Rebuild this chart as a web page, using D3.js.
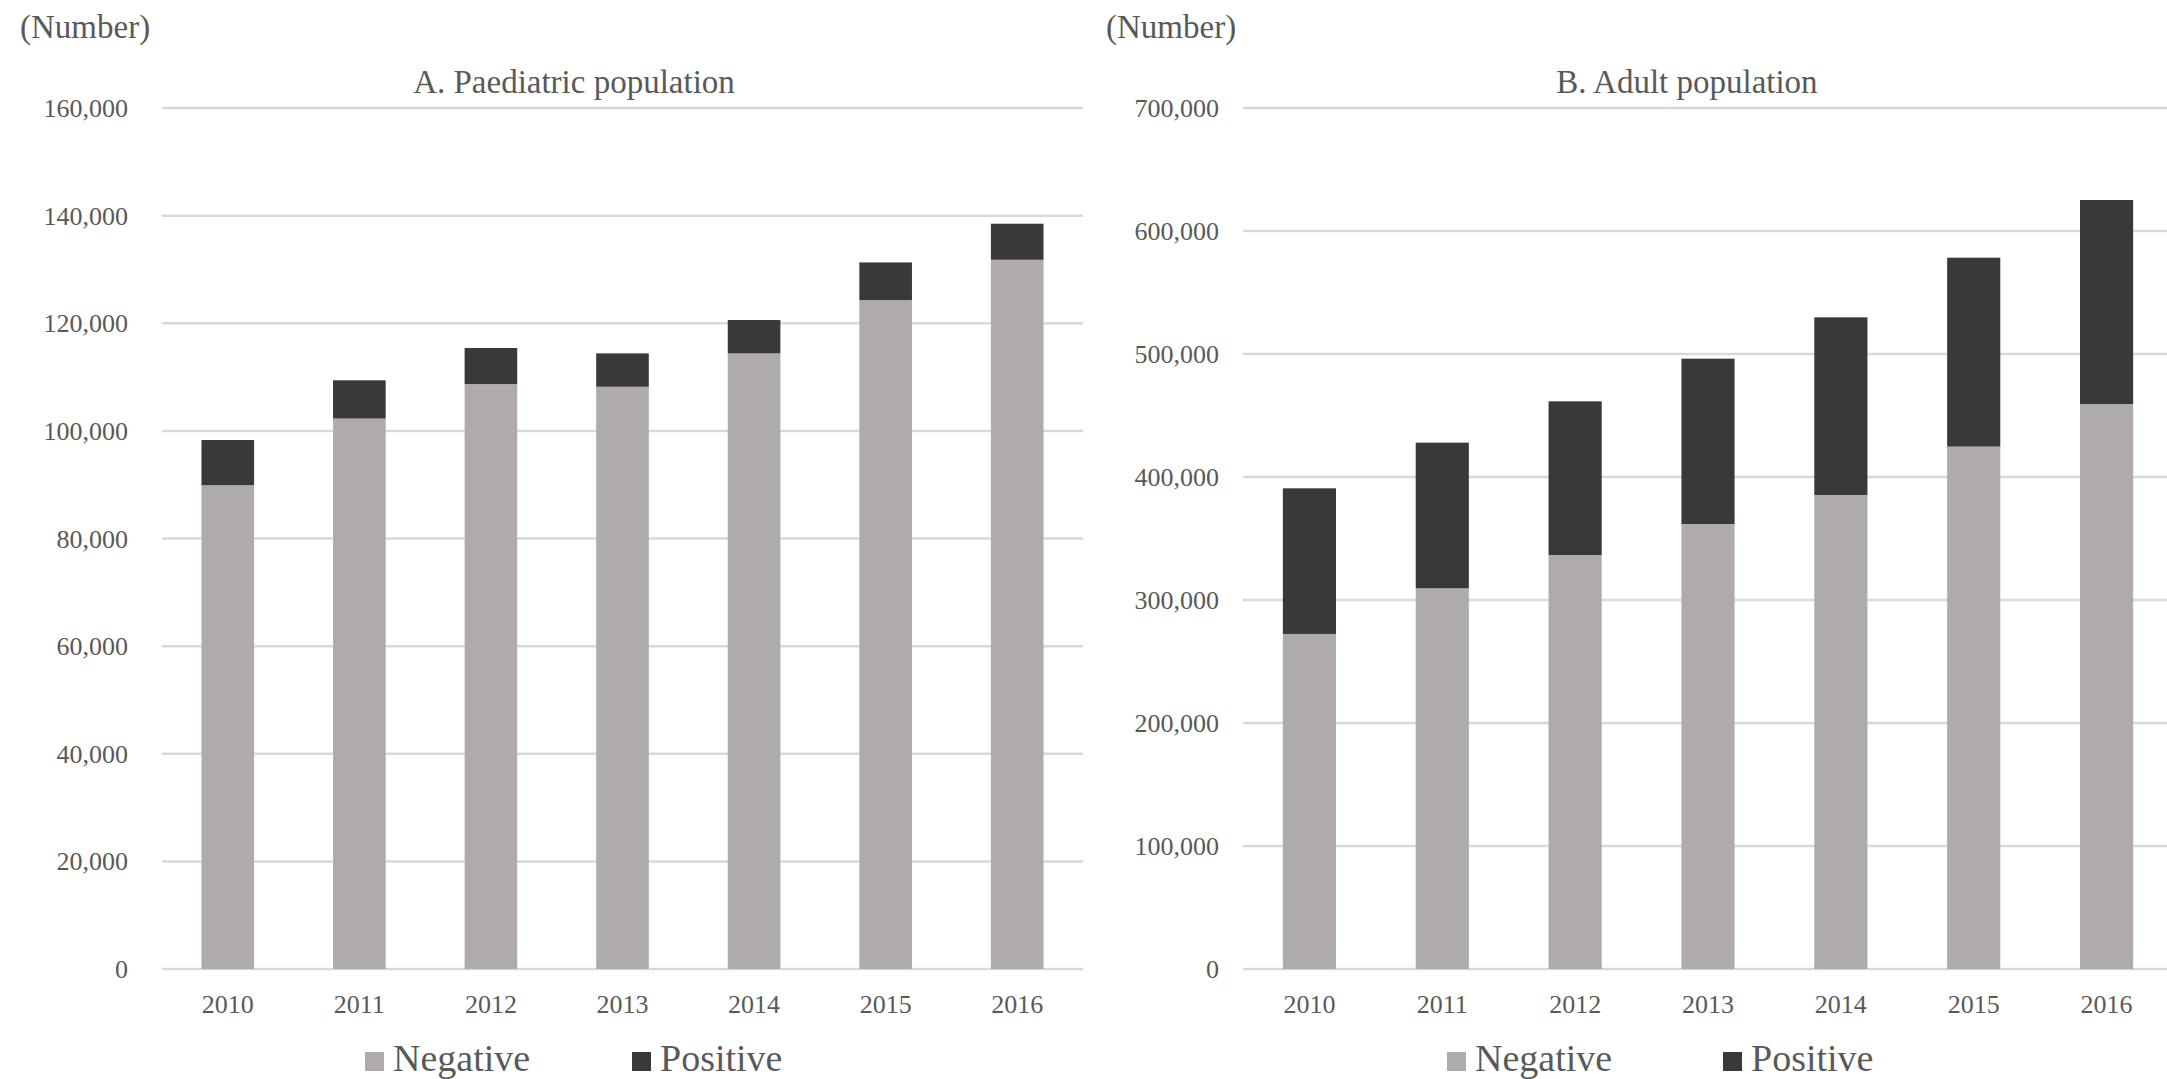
<html>
<head>
<script src="https://cdn.jsdelivr.net/npm/d3@7"></script>
<style>
  body { margin: 0; background: #fff; }
  text { font-family: "Liberation Serif", "Times New Roman", serif; fill: #595959; }
</style>
</head>
<body>
<script>
// years on the x axis
var years = ["2010", "2011", "2012", "2013", "2014", "2015", "2016"]
var seriesNames = ["Negative", "Positive"]

// A. paediatric population
var paedNegative = [89900, 102300, 108700, 108200, 114400, 124300, 131800]
var paedPositive = [8400, 7100, 6700, 6200, 6200, 7000, 6700]
var paedTicks = [0, 20000, 40000, 60000, 80000, 100000, 120000, 140000, 160000]

// B. adult population
var adultNegative = [272400, 309500, 336600, 361800, 385400, 424700, 459300]
var adultPositive = [118400, 118400, 124900, 134400, 144400, 153600, 165900]
var adultTicks = [0, 100000, 200000, 300000, 400000, 500000, 600000, 700000]

var colors = {Negative: "#aeabaa", Positive: "#3a3937"}

var width = 2167, height = 1079
var svg = d3.select("body").append("svg")
    .attr("width", width)
    .attr("height", height)

var fmt = d3.format(",")

function panel(opt) {
  var rows = years.map(function(y, i) {
    return {year: y, Negative: opt.neg[i], Positive: opt.pos[i]}
  })
  var stacked = d3.stack().keys(seriesNames)(rows)

  var x = d3.scaleBand().domain(years).range([opt.x0, opt.x1]).paddingInner(0.6).paddingOuter(0.3)
  var y = d3.scaleLinear().domain([0, opt.max]).range([969, 108])

  var g = svg.append("g")

  // gridlines
  g.selectAll("line.grid")
    .data(opt.ticks)
    .enter().append("line")
    .attr("x1", opt.x0).attr("x2", opt.x1)
    .attr("y1", function(d) { return y(d) }).attr("y2", function(d) { return y(d) })
    .style("stroke", "#d9d9d9")
    .style("stroke-width", 2.5)

  // y labels
  g.selectAll("text.ytick")
    .data(opt.ticks)
    .enter().append("text")
    .attr("x", opt.labelX)
    .attr("y", function(d) { return y(d) + 9 })
    .attr("text-anchor", "end")
    .style("font-size", "26px")
    .text(function(d) { return fmt(d) })

  // bars
  g.selectAll("g.layer")
    .data(stacked)
    .enter().append("g")
    .style("fill", function(d) { return colors[d.key] })
    .selectAll("rect")
    .data(function(d) { return d })
    .enter().append("rect")
    .attr("x", function(d) { return x(d.data.year) })
    .attr("width", x.bandwidth())
    .attr("y", function(d) { return y(d[1]) })
    .attr("height", function(d) { return y(d[0]) - y(d[1]) })

  // x labels
  g.selectAll("text.xtick")
    .data(years)
    .enter().append("text")
    .attr("x", function(d) { return x(d) + x.bandwidth() / 2 })
    .attr("y", 1013)
    .attr("text-anchor", "middle")
    .style("font-size", "26px")
    .text(function(d) { return d })

  // title + unit
  g.append("text")
    .attr("x", opt.titleX).attr("y", 93)
    .attr("text-anchor", "middle")
    .style("font-size", "33px")
    .text(opt.title)
  g.append("text")
    .attr("x", opt.unitX).attr("y", 38)
    .style("font-size", "33px")
    .text("(Number)")

  // legend
  var leg = g.selectAll("g.leg")
    .data(seriesNames)
    .enter().append("g")
    .attr("transform", function(d, i) { return "translate(" + opt.legendX[i] + ",0)" })
  leg.append("rect")
    .attr("x", 0).attr("y", 1052)
    .attr("width", 19).attr("height", 19)
    .style("fill", function(d) { return colors[d] })
  leg.append("text")
    .attr("x", 28).attr("y", 1071)
    .style("font-size", "38px")
    .text(function(d) { return d })
}

panel({
  neg: paedNegative, pos: paedPositive, ticks: paedTicks, max: 160000,
  x0: 162, x1: 1083, labelX: 128,
  title: "A. Paediatric population", titleX: 574, unitX: 20,
  legendX: [365, 632]
})

panel({
  neg: adultNegative, pos: adultPositive, ticks: adultTicks, max: 700000,
  x0: 1243, x1: 2173, labelX: 1219,
  title: "B. Adult population", titleX: 1687, unitX: 1106,
  legendX: [1447, 1723]
})
</script>
</body>
</html>
